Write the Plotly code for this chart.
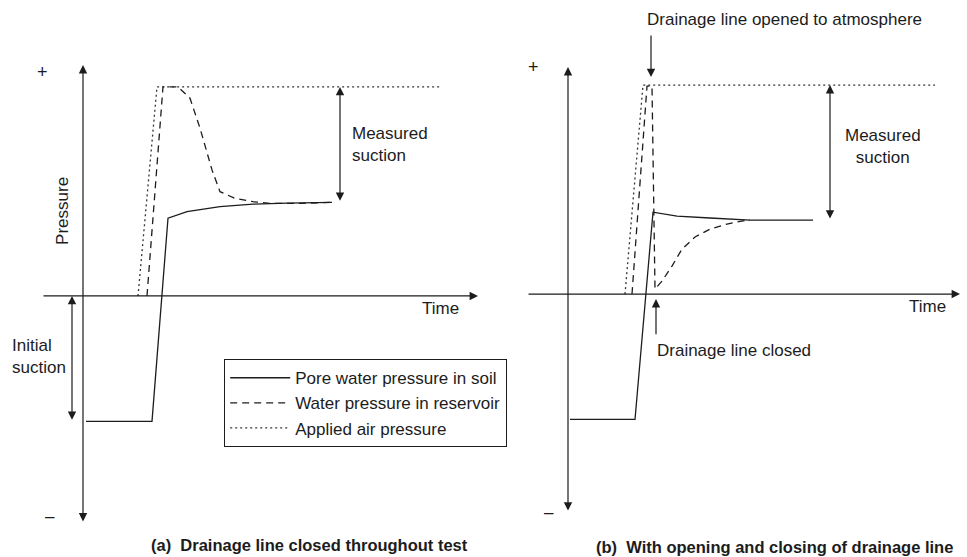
import plotly.graph_objects as go

# ---------------- data (time in arbitrary units, pressure in arbitrary units) ----------------
# Panel (a): drainage line closed throughout test
a_pore_t = [0.3, 6.9, 8.5, 10.4, 13.7, 17.0, 20.4, 24.9]
a_pore_p = [-60.0, -60.0, 37.2, 40.3, 42.7, 43.9, 44.4, 44.8]
a_res_t = [6.4, 8.0, 9.5, 10.7, 11.7, 12.2, 12.9, 13.7, 15.2, 17.0, 18.7, 20.4, 21.9, 24.9]
a_res_p = [0.0, 100.0, 100.0, 94.6, 80.3, 72.2, 60.3, 49.9, 46.7, 45.1, 44.3, 44.3, 44.3, 44.8]
a_air_t = [5.5, 7.4, 35.7]
a_air_p = [0.0, 100.0, 100.0]

# Panel (b): with opening and closing of drainage line
b_pore_t = [0.2, 6.7, 8.5, 10.9, 14.2, 18.2, 24.5]
b_pore_p = [-60.0, -60.0, 39.2, 37.3, 36.4, 35.4, 35.4]
b_res_t = [6.4, 7.9, 8.4, 8.7, 9.4, 10.4, 11.4, 12.7, 14.2, 15.9, 17.5, 18.2]
b_res_p = [0.0, 99.5, 99.5, 2.4, 6.2, 13.4, 21.5, 27.3, 31.1, 33.5, 35.0, 35.4]
b_air_t = [5.7, 7.5, 36.7]
b_air_p = [0.0, 100.0, 100.0]

series_names = ["Pore water pressure in soil", "Water pressure in reservoir", "Applied air pressure"]
captions = ["(a)  Drainage line closed throughout test",
            "(b)  With opening and closing of drainage line"]

# ---------------- styling ----------------
INK = "#1c1c1c"
FONT = "Liberation Sans, Arial, Helvetica, sans-serif"
FS = 17
CAP_FS = 16.5
LW = 1.3
styles = [dict(color=INK, width=LW, dash="solid"),
          dict(color=INK, width=LW, dash="7px,5px"),
          dict(color="#333333", width=LW, dash="2px,3px")]

fig = go.Figure()

panels = [
    ("x", "y", [(a_pore_t, a_pore_p), (a_res_t, a_res_p), (a_air_t, a_air_p)], True),
    ("x2", "y2", [(b_pore_t, b_pore_p), (b_res_t, b_res_p), (b_air_t, b_air_p)], False),
]
for xa, ya, series, show in panels:
    for (t, p), name, st in zip(series, series_names, styles):
        fig.add_trace(go.Scatter(
            x=t, y=p, mode="lines", name=name, line=st,
            xaxis=xa, yaxis=ya, showlegend=show,
            hoverinfo="skip"))

ann = []


def arrow(xr, yr, tail, head, both=False):
    ann.append(dict(xref=xr, yref=yr, axref=xr, ayref=yr,
                    x=head[0], y=head[1], ax=tail[0], ay=tail[1],
                    text="", showarrow=True, arrowhead=2, arrowsize=1.4,
                    arrowwidth=1.2, arrowcolor=INK,
                    arrowside="end+start" if both else "end",
                    startarrowhead=2, startarrowsize=1.4, standoff=0, startstandoff=0))


def text(xr, yr, x, y, s, xanchor="center", align="center", size=FS, angle=0, bold=False):
    ann.append(dict(xref=xr, yref=yr, x=x, y=y, text=(f"<b>{s}</b>" if bold else s),
                    showarrow=False, xanchor=xanchor, yanchor="middle", align=align,
                    textangle=angle, font=dict(family=FONT, size=size, color=INK)))


# ---- panel (a) decorations ----
arrow("x", "y", (0, -108.6), (0, 110.5), both=True)          # pressure axis
arrow("x", "y", (-4.1, 0), (39.5, 0))                          # time axis
arrow("x", "y", (25.7, a_pore_p[-1]), (25.7, a_air_p[-1]), both=True)   # measured suction
arrow("x", "y", (-1.1, a_pore_p[0]), (-1.1, 0), both=True)     # initial suction
text("x", "y", -4.1, 107.0, "+", size=18)
text("x", "y", -3.3, -105.5, "\u2013")
text("x", "y", -2.0, 40.7, "Pressure", angle=-90)
text("x", "y", 35.7, -5.9, "Time")
text("x", "y", 26.7, 72.7, "Measured<br>suction", xanchor="left", align="left")
text("x", "y", -7.3, -29.2, "Initial<br>suction", xanchor="left", align="left")
text("x", "y", 22.6, -119.0, captions[0], bold=True, size=CAP_FS)

# ---- panel (b) decorations ----
arrow("x2", "y2", (0, -104.3), (0, 108.6), both=True)
arrow("x2", "y2", (-4.1, 0), (39.2, 0))
arrow("x2", "y2", (26.2, b_pore_p[-1]), (26.2, b_air_p[-1]), both=True)
arrow("x2", "y2", (8.3, 124.4), (8.3, 103.8))                 # drainage line opened
arrow("x2", "y2", (8.8, -20.0), (8.8, -2.4))                  # drainage line closed
text("x2", "y2", -3.5, 108.6, "+", size=18)
text("x2", "y2", -1.9, -104.3, "\u2013")
text("x2", "y2", 35.9, -6.0, "Time")
text("x2", "y2", 31.5, 70.8, "Measured<br>suction")
text("x2", "y2", 21.6, 131.6, "Drainage line opened to atmosphere")
text("x2", "y2", 8.7, -26.8, "Drainage line closed", xanchor="left", align="left")
text("x2", "y2", 20.6, -121.0, captions[1], bold=True, size=CAP_FS)

hidden = dict(visible=False, showgrid=False, zeroline=False, fixedrange=True)
fig.update_layout(
    width=967, height=557,
    margin=dict(l=0, r=0, t=0, b=0),
    paper_bgcolor="white", plot_bgcolor="white",
    font=dict(family=FONT, size=FS, color=INK),
    xaxis=dict(domain=[0, 0.5], range=[-8.3, 40.05], **hidden),
    yaxis=dict(domain=[0, 1], range=[-124.9, 141.6], anchor="x", **hidden),
    xaxis2=dict(domain=[0.5, 1], range=[-8.45, 39.9], **hidden),
    yaxis2=dict(domain=[0, 1], range=[-125.8, 140.7], anchor="x2", **hidden),
    annotations=ann,
    showlegend=True,
    legend=dict(x=224 / 967, y=1 - 359 / 557, xanchor="left", yanchor="top",
                bordercolor=INK, borderwidth=1.2, bgcolor="white",
                font=dict(family=FONT, size=FS, color=INK),
                itemwidth=60, tracegroupgap=0),
)

fig.write_html("out.html")
